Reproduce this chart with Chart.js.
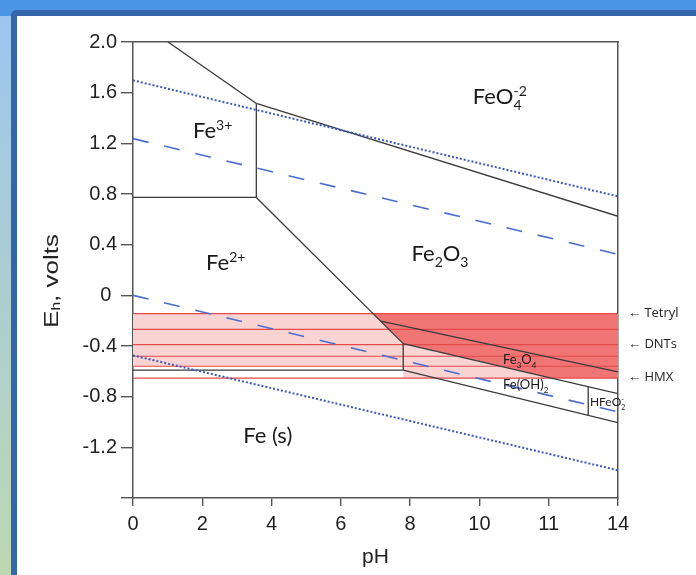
<!DOCTYPE html>
<html>
<head>
<meta charset="utf-8">
<script src="https://cdn.jsdelivr.net/npm/chart.js@4.4.0/dist/chart.umd.min.js"></script>
<style>
  html, body { margin: 0; padding: 0; width: 696px; height: 575px; overflow: hidden; background: #4a96e4; }
  #strip { position: absolute; left: 0; top: 16px; width: 11px; height: 559px; background: linear-gradient(#9dc6ef, #bcd8b2); }
  #panel { position: absolute; left: 11px; top: 10px; right: 0; bottom: 0; background: #fff;
           border-left: 6px solid #3566aa; border-top: 6px solid #3566aa; border-top-left-radius: 6px; }
  #wrap { position: absolute; left: 0; top: 0; width: 696px; height: 575px; }
</style>
</head>
<body>
<div id="strip"></div>
<div id="panel"></div>
<div id="wrap"><canvas id="pourbaix"></canvas></div>
<script>
// axis ticks
const phTicks = [0, 2, 4, 6, 8, 10, 12, 14]
const phLabels = ['0', '2', '4', '6', '8', '10', '11', '14']
const ehTicks = [2.0, 1.6, 1.2, 0.8, 0.4, 0, -0.4, -0.8, -1.2, -1.6]
const ehLabels = ['2.0', '1.6', '1.2', '0.8', '0.4', '0 ', '-0.4', '-0.8', '-1.2', '']

// stability boundaries [pH, Eh]
const fe3Fe2 = [[0, 0.773], [3.56, 0.773]]
const fe3Fe2o3 = [[3.56, 0.773], [3.56, 1.515]]
const fe3FeO4 = [[1.01, 2.0], [3.56, 1.515]]
const fe2o3FeO4 = [[3.56, 1.515], [14, 0.624]]
const fe2Fe2o3 = [[3.56, 0.773], [7.8, -0.381]]
const fe2FeOH2 = [[7.8, -0.381], [7.8, -0.59]]
const fe2Fe = [[0, -0.59], [7.8, -0.59]]
const fe2o3Fe3o4 = [[7.15, -0.204], [14, -0.605]]
const fe3o4FeOH2 = [[7.8, -0.381], [14, -0.776]]
const feOH2Fe = [[7.8, -0.59], [14, -1.005]]
const feOH2HFeO2 = [[13.14, -0.72], [13.14, -0.947]]

// water stability lines
const waterUpper = [[0, 1.237], [14, 0.324]]
const waterLower = [[0, 0], [14, -0.921]]
const dottedUpper = [[0, 1.697], [14, 0.781]]
const dottedLower = [[0, -0.474], [14, -1.381]]

// explosive reduction band
const bandLevels = [-0.144, -0.268, -0.389, -0.481, -0.560, -0.653]
const bandLight = [[0, -0.144], [14, -0.144], [14, -0.653], [7.8, -0.653], [7.8, -0.56], [0, -0.56]]
const bandDark = [[6.93, -0.144], [14, -0.144], [14, -0.653], [12.07, -0.653], [7.8, -0.381]]
const explosives = ['Tetryl', 'DNTs', 'HMX']
const explosiveEh = [-0.144, -0.389, -0.645]

// species labels: parts, pH, Eh (baseline), size
const species = [
  { parts: [{ t: 'Fe' }, { sup: '3+' }], ph: 1.73, eh: 1.242, size: 22 },
  { parts: [{ t: 'FeO' }, { sub: '4', sup: '-2' }], ph: 9.81, eh: 1.51, size: 22 },
  { parts: [{ t: 'Fe' }, { sup: '2+' }], ph: 2.11, eh: 0.199, size: 22 },
  { parts: [{ t: 'Fe' }, { sub: '2' }, { t: 'O' }, { sub: '3' }], ph: 8.04, eh: 0.27, size: 22 },
  { parts: [{ t: 'Fe (s)' }], ph: 3.18, eh: -1.164, size: 22 },
  { parts: [{ t: 'Fe' }, { sub: '3' }, { t: 'O' }, { sub: '4' }], ph: 10.68, eh: -0.544, size: 13 },
  { parts: [{ t: 'Fe(OH)' }, { sub: '2' }], ph: 10.68, eh: -0.74, size: 13 },
  { parts: [{ t: 'HFeO' }, { sub: '2', sup: '-' }], ph: 13.19, eh: -0.875, size: 12 },
]

const pts = arr => arr.map(p => ({ x: p[0], y: p[1] }))

function boundary(arr) {
  return { data: pts(arr), borderColor: '#3a3a3a', borderWidth: 1.3, order: 5 }
}

const datasets = [
  { data: pts(bandLight), borderWidth: 0, borderColor: 'transparent', backgroundColor: '#fad3d3', fill: 'shape', order: 20 },
  { data: pts(bandDark), borderWidth: 0, borderColor: 'transparent', backgroundColor: '#f27575', fill: 'shape', order: 19 },
  ...bandLevels.map(v => ({ data: [{ x: 0, y: v }, { x: 14, y: v }], borderColor: '#e34a4a', borderWidth: 1.2, order: 10 })),
  ...[fe3Fe2, fe3Fe2o3, fe3FeO4, fe2o3FeO4, fe2Fe2o3, fe2FeOH2, fe2Fe, fe2o3Fe3o4, fe3o4FeOH2, feOH2Fe, feOH2HFeO2].map(boundary),
  { data: pts(waterUpper), borderColor: '#4a6cd2', borderWidth: 1.6, borderDash: [16, 16], order: 3 },
  { data: pts(waterLower), borderColor: '#4a6cd2', borderWidth: 1.6, borderDash: [16, 16], order: 3 },
  { data: pts(dottedUpper), borderColor: '#3b58c0', borderWidth: 2, borderDash: [2, 2], order: 3 },
  { data: pts(dottedLower), borderColor: '#3b58c0', borderWidth: 2, borderDash: [2, 2], order: 3 },
]

function drawRich(ctx, parts, x, y, size) {
  let cx = x
  const small = Math.round(size * 0.62)
  parts.forEach(p => {
    if (p.t) {
      ctx.font = `${size}px Lato`
      ctx.fillText(p.t, cx, y)
      cx += ctx.measureText(p.t).width
    } else {
      ctx.font = `${small}px Lato`
      let w = 0
      if (p.sub) { ctx.fillText(p.sub, cx, y + size * 0.28); w = ctx.measureText(p.sub).width }
      if (p.sup) { ctx.fillText(p.sup, cx, y - size * 0.38); w = Math.max(w, ctx.measureText(p.sup).width) }
      cx += w
    }
  })
}

const labelsPlugin = {
  id: 'labels',
  afterDatasetsDraw(chart) {
    const { ctx, chartArea, scales } = chart
    const xs = scales.x, ys = scales.y
    ctx.save()
    ctx.fillStyle = '#1a1a1a'
    ctx.textBaseline = 'alphabetic'
    ctx.textAlign = 'left'
    species.forEach(s => drawRich(ctx, s.parts, xs.getPixelForValue(s.ph), ys.getPixelForValue(s.eh), s.size))

    // explosive labels at the right
    ctx.font = '13px "Open Sans"'
    ctx.fillStyle = '#222'
    ctx.textBaseline = 'middle'
    explosives.forEach((name, i) => {
      ctx.fillText('\u2190 ' + name, chartArea.right + 10, ys.getPixelForValue(explosiveEh[i]))
    })

    // axis titles
    ctx.fillStyle = '#222'
    ctx.font = '21px "Liberation Sans", Arial'
    ctx.textAlign = 'center'
    ctx.fillText('pH', (chartArea.left + chartArea.right) / 2, 557)

    ctx.translate(52, 281)
    ctx.rotate(-Math.PI / 2)
    ctx.scale(1.3, 1)
    ctx.textAlign = 'left'
    const t1 = 'E', t2 = 'h', t3 = ', volts'
    ctx.font = '20px "Liberation Sans", Arial'
    const w1 = ctx.measureText(t1).width, w3 = ctx.measureText(t3).width
    ctx.font = '12px "Liberation Sans", Arial'
    const w2 = ctx.measureText(t2).width
    let x0 = -(w1 + w2 + w3) / 2
    ctx.font = '20px "Liberation Sans", Arial'
    ctx.fillText(t1, x0, 0)
    ctx.font = '12px "Liberation Sans", Arial'
    ctx.fillText(t2, x0 + w1, 5)
    ctx.font = '20px "Liberation Sans", Arial'
    ctx.fillText(t3, x0 + w1 + w2, 0)
    ctx.restore()
  }
}

const axisColor = '#555'

new Chart(document.getElementById('pourbaix'), {
  type: 'scatter',
  data: { datasets: datasets.map(d => ({ showLine: true, pointRadius: 0, pointHoverRadius: 0, fill: false, ...d })) },
  plugins: [labelsPlugin],
  options: {
    responsive: true,
    maintainAspectRatio: false,
    animation: false,
    events: [],
    layout: { padding: { left: 0, right: 78, top: 42, bottom: 0 } },
    plugins: { legend: { display: false }, tooltip: { enabled: false } },
    scales: {
      x: {
        type: 'linear', position: 'bottom', min: 0, max: 14,
        afterBuildTicks: s => { s.ticks = phTicks.map(v => ({ value: v })) },
        afterFit: s => { s.height = 77 },
        ticks: { callback: v => phLabels[phTicks.indexOf(v)], color: '#222', padding: 6, maxRotation: 0,
                 font: { size: 20, family: '"Liberation Sans", Arial' } },
        grid: { drawOnChartArea: false, drawTicks: true, tickLength: 8, color: axisColor, lineWidth: 1.4 },
        border: { display: true, color: axisColor, width: 1.5 }
      },
      y: {
        type: 'linear', position: 'left', min: -1.6, max: 2.0,
        afterBuildTicks: s => { s.ticks = ehTicks.map(v => ({ value: v })) },
        afterFit: s => { s.width = 133 },
        ticks: { callback: (v, i) => ehLabels[i], color: '#222', padding: 4,
                 font: { size: 20, family: '"Liberation Sans", Arial' } },
        grid: { drawOnChartArea: false, drawTicks: true, tickLength: 12, color: axisColor, lineWidth: 1.4 },
        border: { display: true, color: axisColor, width: 1.5 }
      },
      x2: {
        type: 'linear', position: 'top', min: 0, max: 14,
        afterFit: s => { s.height = 0 },
        ticks: { display: false },
        grid: { drawOnChartArea: false, drawTicks: false },
        border: { display: true, color: axisColor, width: 1.5 }
      },
      y2: {
        type: 'linear', position: 'right', min: -1.6, max: 2.0,
        afterFit: s => { s.width = 0 },
        ticks: { display: false },
        grid: { drawOnChartArea: false, drawTicks: false },
        border: { display: true, color: axisColor, width: 1.5 }
      }
    }
  }
})
</script>
</body>
</html>
